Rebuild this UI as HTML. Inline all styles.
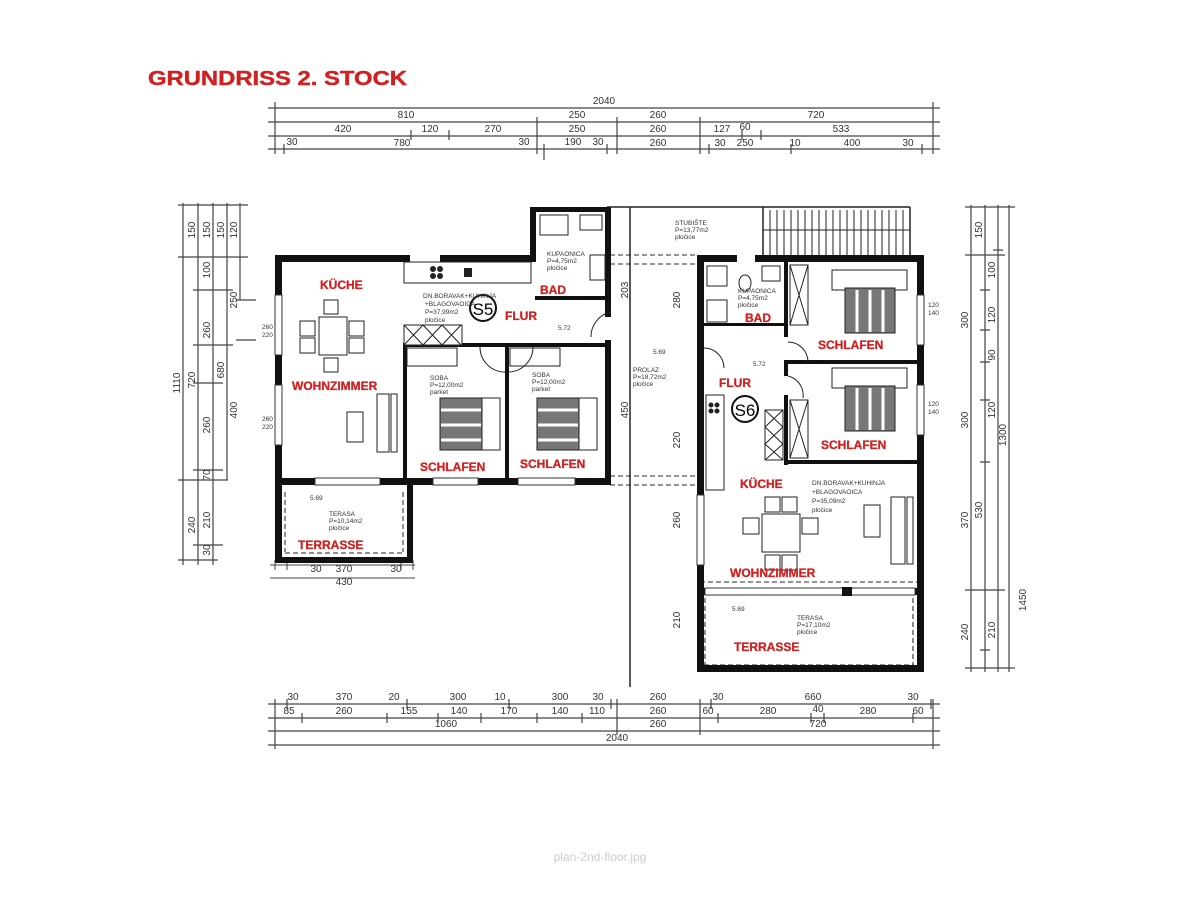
<!DOCTYPE html>
<html><head><meta charset="utf-8"><style>
html,body{margin:0;padding:0;background:#fff;}
svg{display:block;}
.t{font-family:"Liberation Sans",sans-serif;}
.r{font-family:"Liberation Sans",sans-serif;font-weight:bold;fill:#d21f1f;font-size:12px;stroke:#d21f1f;stroke-width:0.3;}
.d{font-family:"Liberation Sans",sans-serif;font-size:10px;fill:#333;}
.s{font-family:"Liberation Sans",sans-serif;font-size:6.5px;fill:#333;}
</style></head><body>
<svg width="1200" height="923" viewBox="0 0 1200 923" xmlns="http://www.w3.org/2000/svg">
<text x="148" y="85" class="t" font-size="20" font-weight="bold" fill="#d21f1f" stroke="#d21f1f" stroke-width="0.4" textLength="259" lengthAdjust="spacingAndGlyphs">GRUNDRISS 2. STOCK</text>
<text x="600" y="861" class="t" font-size="12" fill="#ccc" text-anchor="middle">plan-2nd-floor.jpg</text>

<g stroke="#444" stroke-width="1.2" fill="none">
<line x1="268" y1="108" x2="940" y2="108"/><line x1="268" y1="122" x2="940" y2="122"/>
<line x1="268" y1="136" x2="940" y2="136"/><line x1="268" y1="149" x2="940" y2="149"/>
<line x1="268" y1="704" x2="940" y2="704"/><line x1="268" y1="718" x2="940" y2="718"/>
<line x1="268" y1="731" x2="940" y2="731"/><line x1="268" y1="745" x2="940" y2="745"/>
<path d="M275,102v52 M933,102v52 M537,117v37 M617,117v37 M700,117v37 M411,130v10 M449,130v10 M742,130v10 M761,130v10 M284,144v10 M544,144v16 M607,144v10 M709,144v10 M791,144v10 M922,144v10"/>
<path d="M275,699v50 M933,699v50 M287,699v10 M407,699v10 M509,699v10 M611,699v10 M617,699v36 M700,699v36 M711,699v10 M931,699v10 M302,713v10 M387,713v10 M438,713v10 M481,713v10 M537,713v10 M582,713v10 M718,713v10 M811,713v10 M824,713v10 M913,713v10"/>
<line x1="183" y1="203" x2="183" y2="565"/><line x1="198" y1="203" x2="198" y2="565"/>
<line x1="213" y1="203" x2="213" y2="565"/><line x1="227" y1="203" x2="227" y2="480"/>
<line x1="240" y1="203" x2="240" y2="300"/>
<path d="M178,205h70 M178,257h70 M193,290h40 M193,345h40 M178,480h50 M193,470h30 M178,560h40 M193,545h30 M193,383h30 M236,300h20 M236,340h20"/>
<line x1="971" y1="205" x2="971" y2="672"/><line x1="985" y1="205" x2="985" y2="672"/>
<line x1="998" y1="205" x2="998" y2="672"/><line x1="1009" y1="205" x2="1009" y2="672"/>
<path d="M965,207h50 M965,255h40 M965,590h40 M965,668h50 M980,290h10 M980,330h10 M980,362h10 M980,400h10 M980,462h10 M980,650h10 M993,250h10"/>
</g>
<g class="d" text-anchor="middle">
<text x="604" y="104">2040</text>
<text x="406" y="118">810</text><text x="577" y="118">250</text><text x="658" y="118">260</text><text x="816" y="118">720</text>
<text x="343" y="132">420</text><text x="430" y="132">120</text><text x="493" y="132">270</text><text x="577" y="132">250</text><text x="658" y="132">260</text><text x="722" y="132">127</text><text x="745" y="130">60</text><text x="841" y="132">533</text>
<text x="292" y="145">30</text><text x="402" y="146">780</text><text x="524" y="145">30</text><text x="573" y="145">190</text><text x="598" y="145">30</text><text x="658" y="146">260</text><text x="720" y="146">30</text><text x="745" y="146">250</text><text x="795" y="146">10</text><text x="852" y="146">400</text><text x="908" y="146">30</text>
<text x="293" y="700">30</text><text x="344" y="700">370</text><text x="394" y="700">20</text><text x="458" y="700">300</text><text x="500" y="700">10</text><text x="560" y="700">300</text><text x="598" y="700">30</text><text x="658" y="700">260</text><text x="718" y="700">30</text><text x="813" y="700">660</text><text x="913" y="700">30</text>
<text x="289" y="714">85</text><text x="344" y="714">260</text><text x="409" y="714">155</text><text x="459" y="714">140</text><text x="509" y="714">170</text><text x="560" y="714">140</text><text x="597" y="714">110</text><text x="658" y="714">260</text><text x="708" y="714">60</text><text x="768" y="714">280</text><text x="818" y="712">40</text><text x="868" y="714">280</text><text x="918" y="714">60</text>
<text x="446" y="727">1060</text><text x="658" y="727">260</text><text x="818" y="727">720</text>
<text x="617" y="741">2040</text>
</g>
<g class="d" text-anchor="middle">
<text transform="translate(180,383) rotate(-90)">1110</text>
<text transform="translate(195,230) rotate(-90)">150</text><text transform="translate(195,380) rotate(-90)">720</text><text transform="translate(195,525) rotate(-90)">240</text>
<text transform="translate(210,230) rotate(-90)">150</text><text transform="translate(210,270) rotate(-90)">100</text><text transform="translate(210,330) rotate(-90)">260</text><text transform="translate(210,425) rotate(-90)">260</text><text transform="translate(210,475) rotate(-90)">70</text><text transform="translate(210,520) rotate(-90)">210</text><text transform="translate(210,550) rotate(-90)">30</text>
<text transform="translate(224,230) rotate(-90)">150</text><text transform="translate(224,370) rotate(-90)">680</text>
<text transform="translate(237,230) rotate(-90)">120</text><text transform="translate(237,300) rotate(-90)">250</text><text transform="translate(237,410) rotate(-90)">400</text>
<text transform="translate(1026,600) rotate(-90)">1450</text>
<text transform="translate(1006,435) rotate(-90)">1300</text>
<text transform="translate(968,320) rotate(-90)">300</text><text transform="translate(968,420) rotate(-90)">300</text><text transform="translate(968,520) rotate(-90)">370</text><text transform="translate(968,632) rotate(-90)">240</text>
<text transform="translate(982,230) rotate(-90)">150</text><text transform="translate(982,510) rotate(-90)">530</text>
<text transform="translate(995,270) rotate(-90)">100</text><text transform="translate(995,315) rotate(-90)">120</text><text transform="translate(995,355) rotate(-90)">90</text><text transform="translate(995,410) rotate(-90)">120</text><text transform="translate(995,630) rotate(-90)">210</text>
<text transform="translate(628,290) rotate(-90)">203</text><text transform="translate(680,300) rotate(-90)">280</text><text transform="translate(628,410) rotate(-90)">450</text><text transform="translate(680,440) rotate(-90)">220</text><text transform="translate(680,520) rotate(-90)">260</text><text transform="translate(680,620) rotate(-90)">210</text>
<text x="316" y="572">30</text><text x="344" y="572">370</text><text x="396" y="572">30</text><text x="344" y="585">430</text>
</g>
<g stroke="#444" stroke-width="1" fill="none"><path d="M270,565h145 M275,560v10 M287,560v10 M401,560v10 M413,560v10 M270,578h145"/></g>

<g stroke="#555" stroke-width="1.3" fill="none" stroke-dasharray="5,3">
<path d="M610,255h88 M610,264h88 M610,476h88 M610,485h88 M700,582h220 M705,598v68 M913,598v68 M704,665h210 M285,492v60 M403,492v60 M285,553h120"/>
</g>
<g stroke="#222" stroke-width="1.5" fill="none"><path d="M607,207h303 M630,207v480 M763,207v48 M910,207v48"/>
<path d="M770,210v45 M777,210v45 M784,210v45 M791,210v45 M798,210v45 M805,210v45 M812,210v45 M819,210v45 M826,210v45 M833,210v45 M840,210v45 M847,210v45 M854,210v45 M861,210v45 M868,210v45 M875,210v45 M882,210v45 M889,210v45 M896,210v45 M903,210v45 M763,230h147" stroke-width="1"/></g>

<g fill="#111">
<rect x="275" y="255" width="7" height="230"/>
<rect x="275" y="255" width="135" height="7"/><rect x="440" y="255" width="92" height="7"/>
<rect x="530" y="207" width="6" height="55"/><rect x="530" y="207" width="80" height="5"/>
<rect x="605" y="207" width="6" height="110"/><rect x="605" y="340" width="6" height="145"/>
<rect x="535" y="296" width="70" height="4"/>
<rect x="403" y="343" width="205" height="4"/>
<rect x="403" y="343" width="4" height="140"/><rect x="505" y="343" width="4" height="140"/>
<rect x="275" y="478" width="40" height="7"/><rect x="380" y="478" width="33" height="7"/><rect x="403" y="478" width="30" height="7"/><rect x="478" y="478" width="40" height="7"/><rect x="575" y="478" width="36" height="7"/>
<rect x="275" y="485" width="7" height="78"/><rect x="407" y="485" width="6" height="78"/><rect x="275" y="557" width="138" height="6"/>
<rect x="697" y="255" width="7" height="417"/>
<rect x="697" y="255" width="40" height="7"/><rect x="755" y="255" width="168" height="7"/>
<rect x="917" y="255" width="7" height="417"/>
<rect x="704" y="323" width="82" height="3"/>
<rect x="784" y="262" width="4" height="75"/><rect x="784" y="360" width="4" height="16"/><rect x="784" y="395" width="4" height="70"/>
<rect x="788" y="360" width="132" height="4"/>
<rect x="784" y="460" width="136" height="4"/>
<rect x="697" y="588" width="227" height="7"/>
<rect x="697" y="665" width="227" height="7"/>
</g>
<g fill="#fff" stroke="#333" stroke-width="1">
<rect x="275" y="295" width="7" height="60"/><rect x="275" y="385" width="7" height="60"/>
<rect x="697" y="495" width="7" height="70"/><rect x="917" y="295" width="7" height="50"/><rect x="917" y="385" width="7" height="50"/>
<rect x="315" y="478" width="65" height="7"/><rect x="433" y="478" width="45" height="7"/><rect x="518" y="478" width="57" height="7"/>
<rect x="705" y="588" width="210" height="7"/>
</g>
<g fill="#111"><rect x="842" y="587" width="10" height="9"/><rect x="697" y="372" width="7" height="25"/></g>

<g stroke="#222" stroke-width="1" fill="#fff">
<rect x="404" y="262" width="127" height="21"/>
<rect x="319" y="317" width="28" height="38"/>
<rect x="324" y="300" width="14" height="14"/><rect x="324" y="358" width="14" height="14"/>
<rect x="300" y="321" width="15" height="15"/><rect x="300" y="338" width="15" height="15"/>
<rect x="349" y="321" width="15" height="15"/><rect x="349" y="338" width="15" height="15"/>
<rect x="347" y="412" width="16" height="30"/>
<rect x="377" y="394" width="12" height="58"/><rect x="391" y="394" width="6" height="58"/>
<path d="M404,325h58v20h-58z M404,325l19,20 M423,325l-19,20 M423,325l19,20 M442,325l-19,20 M442,325l19,20 M461,325l-19,20"/>
<rect x="407" y="348" width="50" height="18"/><rect x="510" y="348" width="50" height="18"/>
<rect x="540" y="215" width="28" height="20"/><rect x="580" y="215" width="22" height="15"/>
<rect x="590" y="255" width="15" height="25"/>
<rect x="440" y="398" width="42" height="52" fill="#777"/><rect x="482" y="398" width="18" height="52"/>
<rect x="537" y="398" width="42" height="52" fill="#777"/><rect x="579" y="398" width="18" height="52"/>
</g>
<g stroke="#fff" stroke-width="3"><path d="M441,410h40 M441,425h40 M441,440h40 M538,410h40 M538,425h40 M538,440h40"/></g>
<g fill="#222"><circle cx="433" cy="269" r="3"/><circle cx="440" cy="269" r="3"/><circle cx="433" cy="276" r="3"/><circle cx="440" cy="276" r="3"/><rect x="464" y="268" width="8" height="9"/></g>
<g fill="none" stroke="#222"><path d="M480,347a25,25 0 0 0 25,25 M508,372a25,25 0 0 0 25,-25 M611,312a25,25 0 0 0 -20,25"/></g>
<circle cx="483" cy="308" r="13" fill="#fff" stroke="#111" stroke-width="2"/>
<text x="483" y="315" class="t" font-size="17" text-anchor="middle">S5</text>
<circle cx="745" cy="409" r="13" fill="#fff" stroke="#111" stroke-width="2"/>
<text x="745" y="416" class="t" font-size="17" text-anchor="middle">S6</text>

<g stroke="#222" stroke-width="1" fill="#fff">
<rect x="707" y="266" width="20" height="20"/><rect x="707" y="300" width="20" height="22"/><ellipse cx="745" cy="283" rx="6" ry="8"/><rect x="762" y="266" width="18" height="15"/>
<rect x="790" y="265" width="18" height="60"/><path d="M790,265l18,60 M808,265l-18,60"/>
<rect x="765" y="410" width="18" height="50"/><path d="M765,410l18,17 M783,410l-18,17 M765,427l18,17 M783,427l-18,17 M765,444l18,16 M783,444l-18,16"/>
<rect x="790" y="400" width="18" height="58"/><path d="M790,400l18,58 M808,400l-18,58"/>
<rect x="832" y="270" width="75" height="20"/><rect x="845" y="288" width="50" height="45" fill="#777"/>
<rect x="832" y="368" width="75" height="20"/><rect x="845" y="386" width="50" height="45" fill="#777"/>
<rect x="706" y="395" width="18" height="95"/>
<rect x="762" y="514" width="38" height="38"/>
<rect x="765" y="497" width="15" height="15"/><rect x="782" y="497" width="15" height="15"/>
<rect x="765" y="555" width="15" height="15"/><rect x="782" y="555" width="15" height="15"/>
<rect x="743" y="518" width="16" height="16"/><rect x="802" y="518" width="16" height="16"/>
<rect x="864" y="505" width="16" height="32"/>
<rect x="891" y="497" width="14" height="67"/><rect x="907" y="497" width="6" height="67"/>
</g>
<g stroke="#fff" stroke-width="3"><path d="M857,290v42 M870,290v42 M883,290v42 M857,388v42 M870,388v42 M883,388v42"/></g>
<g fill="#222"><circle cx="711" cy="405" r="2.5"/><circle cx="717" cy="405" r="2.5"/><circle cx="711" cy="411" r="2.5"/><circle cx="717" cy="411" r="2.5"/></g>
<g fill="none" stroke="#222"><path d="M704,348a20,20 0 0 1 20,20 M788,342a20,20 0 0 1 20,20 M788,376a20,20 0 0 1 15,22"/></g>

<g class="s">
<text x="423" y="298">DN.BORAVAK+KUHINJA</text><text x="425" y="306">+BLAGOVAOICA</text><text x="425" y="314">P=37,99m2</text><text x="425" y="322">pločice</text>
<text x="547" y="256">KUPAONICA</text><text x="547" y="263">P=4,75m2</text><text x="547" y="270">pločice</text>
<text x="430" y="380">SOBA</text><text x="430" y="387">P=12,00m2</text><text x="430" y="394">parket</text>
<text x="532" y="377">SOBA</text><text x="532" y="384">P=12,00m2</text><text x="532" y="391">parket</text>
<text x="329" y="516">TERASA</text><text x="329" y="523">P=10,14m2</text><text x="329" y="530">pločice</text>
<text x="675" y="225">STUBIŠTE</text><text x="675" y="232">P=13,77m2</text><text x="675" y="239">pločice</text>
<text x="633" y="372">PROLAZ</text><text x="633" y="379">P=18,72m2</text><text x="633" y="386">pločice</text>
<text x="738" y="293">KUPAONICA</text><text x="738" y="300">P=4,75m2</text><text x="738" y="307">pločice</text>
<text x="812" y="485">DN.BORAVAK+KUHINJA</text><text x="812" y="494">+BLAGOVAOICA</text><text x="812" y="503">P=35,09m2</text><text x="812" y="512">pločice</text>
<text x="797" y="620">TERASA</text><text x="797" y="627">P=17,10m2</text><text x="797" y="634">pločice</text>
<text x="558" y="330">5.72</text><text x="653" y="354">5.69</text><text x="753" y="366">5.72</text><text x="310" y="500">5.69</text><text x="732" y="611">5.69</text>
<text x="928" y="307">120</text><text x="928" y="315">140</text><text x="928" y="406">120</text><text x="928" y="414">140</text>
<text x="262" y="329">260</text><text x="262" y="337">220</text><text x="262" y="421">260</text><text x="262" y="429">220</text>
</g>

<g class="r">
<text x="320" y="289">KÜCHE</text><text x="505" y="320">FLUR</text><text x="540" y="294">BAD</text>
<text x="292" y="390">WOHNZIMMER</text><text x="420" y="471">SCHLAFEN</text><text x="520" y="468">SCHLAFEN</text>
<text x="298" y="549">TERRASSE</text>
<text x="745" y="322">BAD</text><text x="818" y="349">SCHLAFEN</text><text x="719" y="387">FLUR</text><text x="821" y="449">SCHLAFEN</text>
<text x="740" y="488">KÜCHE</text><text x="730" y="577">WOHNZIMMER</text><text x="734" y="651">TERRASSE</text>
</g>
</svg>
</body></html>
